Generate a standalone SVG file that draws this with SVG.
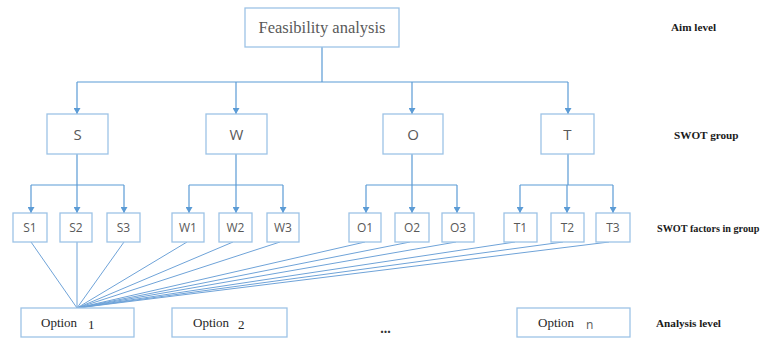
<svg xmlns="http://www.w3.org/2000/svg" width="766" height="343" viewBox="0 0 766 343">
<defs>
<style>
.box{fill:#ffffff;stroke:#9dc3e6;stroke-width:1.3}
.ln{fill:none;stroke:#5b9bd5;stroke-width:1.2}
.fan{fill:none;stroke:#6fa3d8;stroke-width:1}
.serif{font-family:'Liberation Serif','Times New Roman','DejaVu Serif',serif}
.sans{font-family:'Open Sans','Noto Sans','DejaVu Sans',sans-serif;fill:#595959}
.lvl{font-family:'Liberation Serif','Times New Roman','DejaVu Serif',serif;font-size:11.2px;fill:#1a1a1a;font-weight:bold}
.grp{font-size:15px;text-anchor:middle}
.fac{font-size:12px;text-anchor:middle}
.opt{font-family:'Liberation Serif','Times New Roman','DejaVu Serif',serif;font-size:13px;fill:#262626}
</style>
<marker id="ah" markerUnits="userSpaceOnUse" markerWidth="7" markerHeight="7" refX="6" refY="3.5" orient="auto">
<path d="M0,0 L6,3.5 L0,7 z" fill="#5b9bd5"/>
</marker>
</defs>
<rect width="766" height="343" fill="#ffffff"/>

<g id="connectors">
<path class="ln" d="M322,47 V82 M77,82 H568"/>
<path class="ln" marker-end="url(#ah)" d="M77,82 V114"/>
<path class="ln" marker-end="url(#ah)" d="M236,82 V114"/>
<path class="ln" marker-end="url(#ah)" d="M412,82 V114"/>
<path class="ln" marker-end="url(#ah)" d="M568,82 V114"/>

<path class="ln" d="M77,154 V185 M31,185 H124"/>
<path class="ln" marker-end="url(#ah)" d="M31,185 V213"/>
<path class="ln" marker-end="url(#ah)" d="M77,185 V213"/>
<path class="ln" marker-end="url(#ah)" d="M124,185 V213"/>

<path class="ln" d="M236,154 V185 M189,185 H283"/>
<path class="ln" marker-end="url(#ah)" d="M189,185 V213"/>
<path class="ln" marker-end="url(#ah)" d="M236,185 V213"/>
<path class="ln" marker-end="url(#ah)" d="M283,185 V213"/>

<path class="ln" d="M412,154 V185 M366,185 H457"/>
<path class="ln" marker-end="url(#ah)" d="M366,185 V213"/>
<path class="ln" marker-end="url(#ah)" d="M412,185 V213"/>
<path class="ln" marker-end="url(#ah)" d="M457,185 V213"/>

<path class="ln" d="M568,154 V185 M520,185 H613"/>
<path class="ln" marker-end="url(#ah)" d="M520,185 V213"/>
<path class="ln" marker-end="url(#ah)" d="M567,185 V213"/>
<path class="ln" marker-end="url(#ah)" d="M613,185 V213"/>

<path class="fan" d="M31,242 L77,308 M77,242 L77,308 M124,242 L77,308 M187,242 L77,308 M233,242 L77,308 M280,242 L77,308 M365,242 L77,308 M410,242 L77,308 M456,242 L77,308 M515,242 L77,308 M563,242 L77,308 M609,242 L77,308"/>
</g>

<g id="aim">
<rect class="box" x="245" y="8" width="154" height="39"/>
<text class="serif" x="322" y="33" font-size="16.5" fill="#595959" text-anchor="middle">Feasibility analysis</text>
</g>

<g id="S"><rect class="box" x="47" y="114" width="61" height="40"/><text class="sans grp" x="77.5" y="139.5">S</text></g>
<g id="W"><rect class="box" x="206" y="114" width="61" height="40"/><text class="sans grp" x="236.5" y="139.5">W</text></g>
<g id="O"><rect class="box" x="383" y="114" width="60" height="40"/><text class="sans grp" x="413" y="139.5">O</text></g>
<g id="T"><rect class="box" x="541" y="114" width="53" height="40"/><text class="sans grp" x="567.5" y="139.5">T</text></g>

<g id="S1"><rect class="box" x="13" y="213" width="34" height="29"/><text class="sans fac" x="30" y="232">S1</text></g>
<g id="S2"><rect class="box" x="60" y="213" width="32" height="29"/><text class="sans fac" x="76" y="232">S2</text></g>
<g id="S3"><rect class="box" x="107" y="213" width="33" height="29"/><text class="sans fac" x="123.5" y="232">S3</text></g>
<g id="W1"><rect class="box" x="172" y="213" width="32" height="29"/><text class="sans fac" x="188" y="232">W1</text></g>
<g id="W2"><rect class="box" x="219" y="213" width="33" height="29"/><text class="sans fac" x="235.5" y="232">W2</text></g>
<g id="W3"><rect class="box" x="267" y="213" width="32" height="29"/><text class="sans fac" x="283" y="232">W3</text></g>
<g id="O1"><rect class="box" x="349" y="213" width="32" height="29"/><text class="sans fac" x="365" y="232">O1</text></g>
<g id="O2"><rect class="box" x="395" y="213" width="34" height="29"/><text class="sans fac" x="412" y="232">O2</text></g>
<g id="O3"><rect class="box" x="442" y="213" width="32" height="29"/><text class="sans fac" x="458" y="232">O3</text></g>
<g id="T1"><rect class="box" x="504" y="213" width="33" height="29"/><text class="sans fac" x="520.5" y="232">T1</text></g>
<g id="T2"><rect class="box" x="551" y="213" width="33" height="29"/><text class="sans fac" x="567.5" y="232">T2</text></g>
<g id="T3"><rect class="box" x="596" y="213" width="34" height="29"/><text class="sans fac" x="613" y="232">T3</text></g>

<g id="option1"><rect class="box" x="21" y="308" width="113" height="29"/><text class="opt" x="41" y="327">Option</text><text class="opt" x="88" y="328.5">1</text></g>
<g id="option2"><rect class="box" x="172" y="308" width="115" height="29"/><text class="opt" x="193" y="327">Option</text><text class="opt" x="238" y="328.5">2</text></g>
<g id="ellipsis"><text class="serif" x="385.5" y="333" font-size="14" font-weight="bold" fill="#333333" text-anchor="middle">...</text></g>
<g id="optionn"><rect class="box" x="517" y="308" width="113" height="29"/><text class="opt" x="538" y="327">Option</text><text class="sans" x="586" y="328.5" font-size="12" fill="#333333">n</text></g>

<g id="levels">
<text class="lvl" x="671" y="31">Aim level</text>
<text class="lvl" x="674" y="138.5">SWOT group</text>
<text class="lvl" x="657" y="231.5" style="font-size:10.2px">SWOT factors in group</text>
<text class="lvl" x="656" y="326.5">Analysis level</text>
</g>
</svg>
